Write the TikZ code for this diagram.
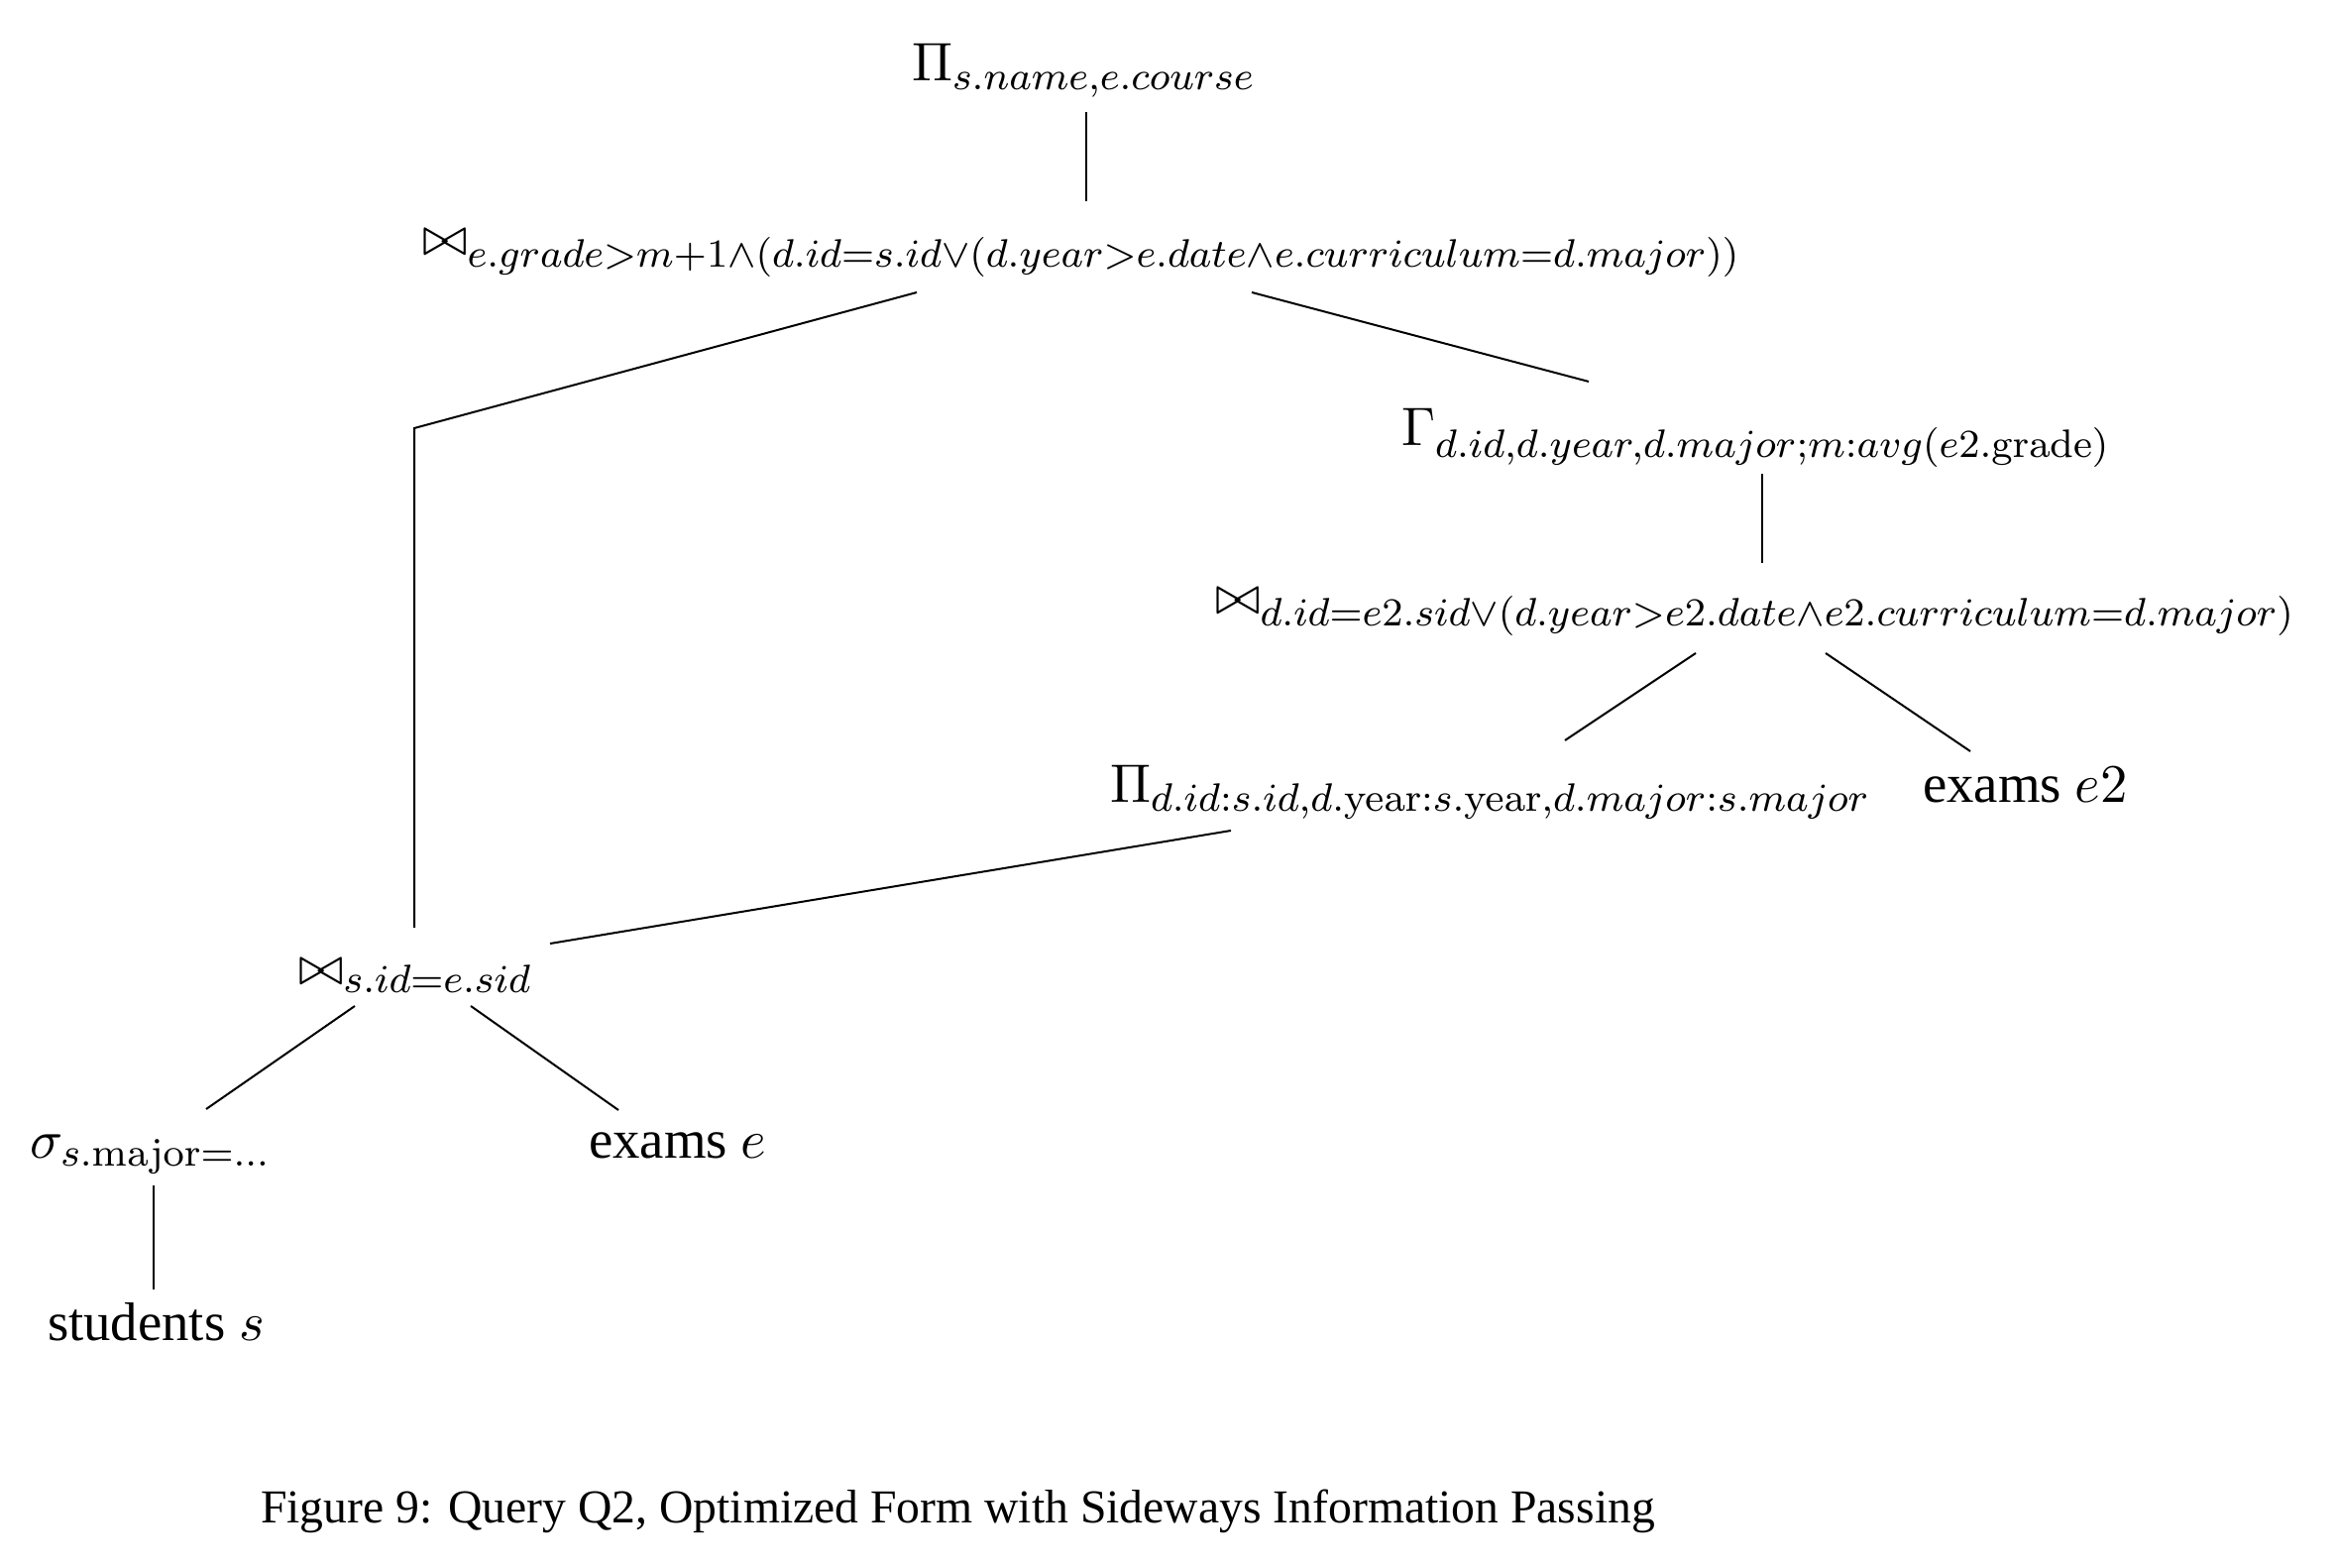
\documentclass[tikz,border=0pt]{standalone}
\usepackage[no-math]{fontspec}
\setmainfont{Liberation Serif}
\begin{document}
\begin{tikzpicture}[x=0.2pt,y=-0.2pt,
  lbl/.style={anchor=base west,inner sep=0pt,outer sep=0pt,font=\fontsize{10.95}{13}\selectfont},
  captxt/.style={anchor=base west,inner sep=0pt,font=\fontsize{9.53}{12}\selectfont},
  edge/.style={line width=0.4pt}]
\useasboundingbox (0,0) rectangle (2358,1582);
% nodes
\node[lbl] (pitop) at (920,82) {$\Pi_{s.name,e.course}$};
\node[lbl] (join1) at (426,258) {$\bowtie_{e.grade>m+1\wedge(d.id=s.id\vee(d.year>e.date\wedge e.curriculum=d.major))}$};
\node[lbl] (gamma) at (1414,450) {$\Gamma_{d.id,d.year,d.major;m:avg(e2.\mathrm{grade})}$};
\node[lbl] (join2) at (1226,620) {$\bowtie_{d.id=e2.sid\vee(d.year>e2.date\wedge e2.curriculum=d.major)}$};
\node[lbl] (pi2) at (1120,810) {$\Pi_{d.id:s.id,d.\mathrm{year}:s.\mathrm{year},d.major:s.major}$};
\node[lbl] (exe2) at (1940,810) {exams $e2$};
\node[lbl] (join3) at (301,993) {$\bowtie_{s.id=e.sid}$};
\node[lbl] (sigma) at (30,1168) {$\sigma_{s.\mathrm{major}=...}$};
\node[lbl] (exe) at (594,1168) {exams $e$};
\node[lbl] (stud) at (48,1352) {students $s$};
\node[captxt] (caption) at (262,1536) {Figure 9: Query Q2, Optimized Form with Sideways Information Passing};
% connector end points
\coordinate (a1) at (1096,113); \coordinate (a2) at (1096,203);
\coordinate (b1) at (925,295); \coordinate (b2) at (418,432); \coordinate (b3) at (418,936);
\coordinate (c1) at (1263,295); \coordinate (c2) at (1603,385);
\coordinate (d1) at (1778,478); \coordinate (d2) at (1778,568);
\coordinate (e1) at (1711,659); \coordinate (e2) at (1579,747);
\coordinate (f1) at (1842,659); \coordinate (f2) at (1988,758);
\coordinate (g1) at (1242,838); \coordinate (g2) at (555,952);
\coordinate (h1) at (358,1015); \coordinate (h2) at (208,1119);
\coordinate (i1) at (475,1015); \coordinate (i2) at (624,1120);
\coordinate (j1) at (155,1196); \coordinate (j2) at (155,1301);
% connectors
\draw[edge] (a1) -- (a2);
\draw[edge] (b1) -- (b2) -- (b3);
\draw[edge] (c1) -- (c2);
\draw[edge] (d1) -- (d2);
\draw[edge] (e1) -- (e2);
\draw[edge] (f1) -- (f2);
\draw[edge] (g1) -- (g2);
\draw[edge] (h1) -- (h2);
\draw[edge] (i1) -- (i2);
\draw[edge] (j1) -- (j2);
\end{tikzpicture}
\end{document}
